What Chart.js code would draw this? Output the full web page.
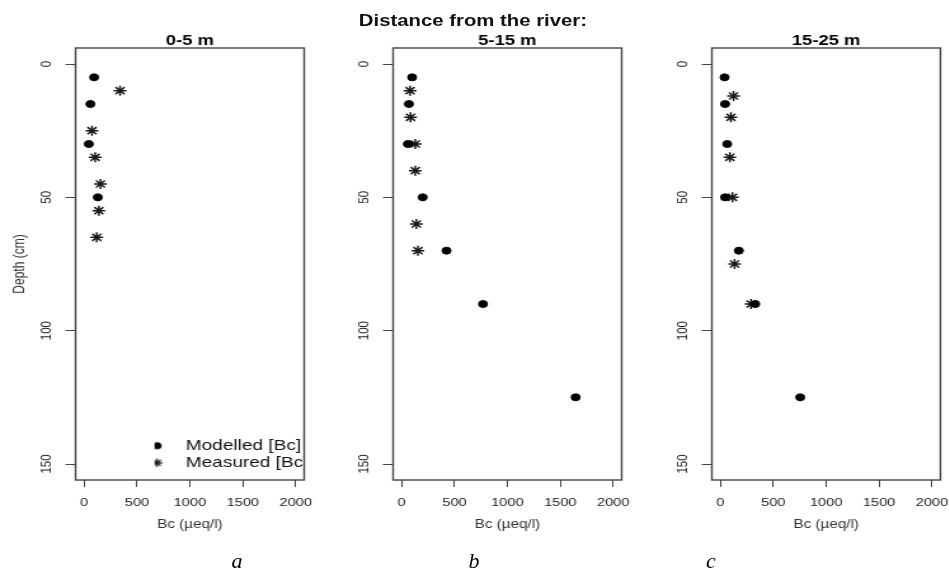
<!DOCTYPE html>
<html>
<head>
<meta charset="utf-8">
<script src="https://cdn.jsdelivr.net/npm/chart.js@4.4.1/dist/chart.umd.min.js"></script>
<style>
  html, body { margin: 0; padding: 0; background: #fff; width: 949px; height: 571px; overflow: hidden; }
  #wrap { position: absolute; left: 0; top: 0; width: 748px; height: 571px; transform: scaleX(1.27); transform-origin: 0 0; }
  #wrap canvas { position: absolute; top: 0; }
  .main { position: absolute; left: 222.4px; top: 11px; width: 300px; text-align: center; font: bold 16px/20px 'Liberation Sans', Arial, sans-serif; color: #111; }
  .lab { position: absolute; top: 550px; width: 40px; text-align: center; font: italic 22px/22px 'Liberation Serif', 'Times New Roman', serif; color: #000; }
</style>
</head>
<body>
<div id="wrap">
  <div class="main">Distance from the river:</div>
  <canvas id="c0" width="249" height="571" style="left:0px"></canvas>
  <canvas id="c1" width="249" height="571" style="left:250px"></canvas>
  <canvas id="c2" width="249" height="571" style="left:500.5px"></canvas>
</div>
<div class="lab" style="left:217px">a</div>
<div class="lab" style="left:454px">b</div>
<div class="lab" style="left:691px">c</div>
<script>
// ---- data ----
const xTicks = [0, 500, 1000, 1500, 2000];
const yTicks = [0, 50, 100, 150];
const panelTitles = ['0-5 m', '5-15 m', '15-25 m'];
const seriesNames = ['Modelled [Bc]', 'Measured [Bc]'];

const modDepthA = [5, 15, 30, 50];
const modBcA    = [95, 60, 45, 130];
const meaDepthA = [10, 25, 35, 45, 55, 65];
const meaBcA    = [340, 75, 105, 155, 140, 120];

const modDepthB = [5, 15, 30, 50, 70, 90, 125];
const modBcB    = [100, 70, 60, 200, 425, 770, 1645];
const meaDepthB = [10, 20, 30, 40, 60, 70];
const meaBcB    = [80, 85, 130, 130, 140, 155];

const modDepthC = [5, 15, 30, 50, 70, 90, 125];
const modBcC    = [40, 45, 65, 45, 175, 330, 755];
const meaDepthC = [12, 20, 35, 50, 75, 90];
const meaBcC    = [125, 100, 90, 115, 135, 290];
// --------------------------------------

const FAMILY = "'Liberation Sans', Arial, sans-serif";
Chart.defaults.font.family = FAMILY;

function toPts(xs, ys) { return xs.map((v, i) => ({ x: v, y: ys[i] })); }

function makeMark(kind) {
  const c = document.createElement('canvas');
  c.width = 30; c.height = 14;
  const g = c.getContext('2d');
  const cx = 7.4, cy = 7;
  if (kind === 'circle') {
    g.fillStyle = '#000';
    g.beginPath(); g.arc(cx, cy, 3.6, 0, Math.PI * 2); g.fill();
  } else {
    g.strokeStyle = '#222'; g.lineWidth = 1.3;
    g.beginPath();
    for (let k = 0; k < 4; k++) {
      const a = k * Math.PI / 4;
      g.moveTo(cx - 4.2 * Math.cos(a), cy - 4.2 * Math.sin(a));
      g.lineTo(cx + 4.2 * Math.cos(a), cy + 4.2 * Math.sin(a));
    }
    g.stroke();
  }
  return c;
}
const legendMarks = [makeMark('circle'), makeMark('star')];

const boxPlugin = {
  id: 'plotBox',
  afterDraw(chart) {
    const a = chart.chartArea, ctx = chart.ctx;
    ctx.save();
    ctx.strokeStyle = '#444';
    ctx.lineWidth = 1.4;
    ctx.strokeRect(a.left, a.top, a.right - a.left, a.bottom - a.top);
    ctx.restore();
  }
};

const legendPlacer = {
  id: 'legendPlacer',
  afterLayout(chart) {
    const lg = chart.legend;
    if (!lg || !chart.options.plugins.legend.display) return;
    lg.left = 121.7;
    lg.top = 436.2;
    lg.right = chart.chartArea.right;
    lg.bottom = chart.chartArea.bottom;
    lg.width = lg.right - lg.left;
    lg.height = lg.bottom - lg.top;
  }
};

const panels = [
  { mod: [modBcA, modDepthA], mea: [meaBcA, meaDepthA] },
  { mod: [modBcB, modDepthB], mea: [meaBcB, meaDepthB] },
  { mod: [modBcC, modDepthC], mea: [meaBcC, meaDepthC] }
];

panels.forEach((p, i) => {
  new Chart(document.getElementById('c' + i), {
    type: 'scatter',
    data: {
      datasets: [
        {
          label: seriesNames[0],
          data: toPts(p.mod[0], p.mod[1]),
          pointStyle: 'circle', pointRadius: 3.5,
          backgroundColor: '#000', borderColor: '#000', borderWidth: 1
        },
        {
          label: seriesNames[1],
          data: toPts(p.mea[0], p.mea[1]),
          pointStyle: 'star', pointRadius: 5,
          backgroundColor: 'rgba(0,0,0,0)', borderColor: '#1a1a1a', borderWidth: 1.5
        }
      ]
    },
    options: {
      responsive: false,
      animation: false,
      devicePixelRatio: 1,
      events: [],
      layout: { padding: { left: 0, right: 9.5, top: 0, bottom: 31 } },
      plugins: {
        tooltip: { enabled: false },
        title: {
          display: true, text: panelTitles[i], fullSize: false, color: '#000',
          font: { size: 14.5, weight: 'bold', lineHeight: 1, family: FAMILY },
          padding: { top: 33.5, bottom: 0 }
        },
        legend: {
          display: i === 0,
          position: 'chartArea',
          align: 'start',
          labels: {
            usePointStyle: true, boxWidth: 15, boxHeight: 5, padding: 2,
            color: '#111', font: { size: 15, family: FAMILY },
            generateLabels: (chart) => chart.data.datasets.map((ds, k) => ({
              text: ds.label, pointStyle: legendMarks[k], fillStyle: '#000',
              strokeStyle: '#000', lineWidth: 0, hidden: false, datasetIndex: k, fontColor: '#111'
            }))
          }
        }
      },
      scales: {
        x: {
          type: 'linear', position: 'bottom', min: -80, max: 2080,
          afterBuildTicks: (s) => { s.ticks = xTicks.map(v => ({ value: v })); },
          afterFit: (s) => { s.height = 60; s.paddingLeft = 0; s.paddingRight = 0; },
          grid: { display: true, drawOnChartArea: false, drawTicks: true, tickLength: 7, color: '#444', lineWidth: 1 },
          border: { display: false },
          ticks: { autoSkip: false, maxRotation: 0, padding: 8.5, color: '#222',
                   font: { size: 11.5, family: FAMILY }, callback: (v) => String(v) },
          title: { display: true, text: 'Bc (µeq/l)', color: '#333',
                   font: { size: 12, family: FAMILY }, padding: { top: 0, bottom: 7.8 } }
        },
        y: {
          type: 'linear', position: 'left', reverse: true, min: -6, max: 156,
          afterBuildTicks: (s) => { s.ticks = yTicks.map(v => ({ value: v })); },
          afterFit: (s) => { s.width = 59.5; s.paddingTop = 0; s.paddingBottom = 0; },
          grid: { display: true, drawOnChartArea: false, drawTicks: true, tickLength: 8, color: '#444', lineWidth: 1 },
          border: { display: false },
          ticks: { autoSkip: false, minRotation: 90, maxRotation: 90, crossAlign: 'center', padding: 5,
                   color: '#222', font: { size: 11.5, family: FAMILY }, callback: (v) => String(v) },
          title: { display: i === 0, text: 'Depth (cm)', color: '#333',
                   font: { size: 12, family: FAMILY }, padding: { top: 8, bottom: 0 } }
        }
      }
    },
    plugins: [boxPlugin, legendPlacer]
  });
});
</script>
</body>
</html>
